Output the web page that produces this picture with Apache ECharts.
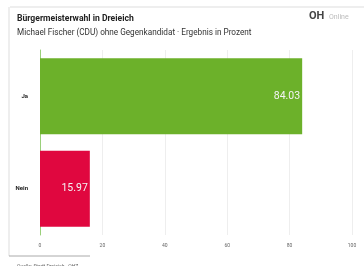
<!DOCTYPE html>
<html><head><meta charset="utf-8">
<script src="https://cdn.jsdelivr.net/npm/echarts@6/dist/echarts.min.js"></script>
<style>html,body{margin:0;padding:0;background:#fff}#c{width:364px;height:266px}</style>
</head><body><div id="c"></div>
<script>
var categories = ['Ja', 'Nein'];
var values = [84.03, 15.97];
var colors = ['#6cb12a', '#e0073f'];
var xTicks = [0, 20, 40, 60, 80, 100];

var chart = echarts.init(document.getElementById('c'));
chart.setOption({
  animation: false,
  backgroundColor: '#fff',
  textStyle: { fontFamily: 'Roboto, Arial, sans-serif' },
  title: [
    { text: 'Bürgermeisterwahl in Dreieich', left: 12, top: 9,
      textStyle: { fontSize: 8.6, fontWeight: 'bold', color: '#222' } },
    { text: 'Michael Fischer (CDU) ohne Gegenkandidat · Ergebnis in Prozent', left: 12, top: 24,
      textStyle: { fontSize: 8.2, fontWeight: 'normal', color: '#333' } },
    { text: 'Quelle: Stadt Dreieich · OHZ', left: 12, top: 259,
      textStyle: { fontSize: 5, fontWeight: 'normal', color: '#666' } }
  ],
  graphic: [
    { type: 'line', shape: { x1: 10, y1: 7, x2: 364, y2: 7 }, style: { stroke: '#ddd', lineWidth: 1 } },
    { type: 'line', shape: { x1: 9, y1: 7, x2: 9, y2: 256 }, style: { stroke: '#ddd', lineWidth: 1 } },
    { type: 'line', shape: { x1: 9, y1: 256, x2: 90, y2: 256 }, style: { stroke: '#aaa', lineWidth: 1 } },
    { type: 'text', left: 309, top: 11, style: { text: 'OH', font: 'bold 11px Roboto, Arial', fill: '#444' } },
    { type: 'text', left: 329, top: 14, style: { text: 'Online', font: '7px Roboto, Arial', fill: '#bbb' } }
  ],
  grid: { left: 40, right: 12, top: 50, bottom: 31 },
  xAxis: {
    type: 'value', min: 0, max: 100, interval: 20,
    axisLine: { show: false },
    axisTick: { show: false },
    splitLine: { show: true, lineStyle: { color: '#eee', type: 'solid' } },
    axisLabel: { fontSize: 5, color: '#666', margin: 8,
      formatter: function (v) { return xTicks.indexOf(v) >= 0 ? String(v) : ''; } }
  },
  yAxis: {
    type: 'category', data: categories, inverse: true,
    axisLine: { show: true, lineStyle: { color: '#9ad07a', width: 1 } },
    axisTick: { show: false },
    axisLabel: { fontSize: 6, fontWeight: 'bold', color: '#222', margin: 12 }
  },
  series: [{
    type: 'bar',
    barWidth: '82%',
    data: values.map(function (v, i) { return { value: v, itemStyle: { color: colors[i] } }; }),
    label: {
      show: true, position: 'insideRight', distance: 2, color: '#f4f4f4', fontSize: 10.5, fontWeight: 'normal',
      formatter: function (p) { return p.value.toFixed(2); }
    }
  }]
});
</script></body></html>
